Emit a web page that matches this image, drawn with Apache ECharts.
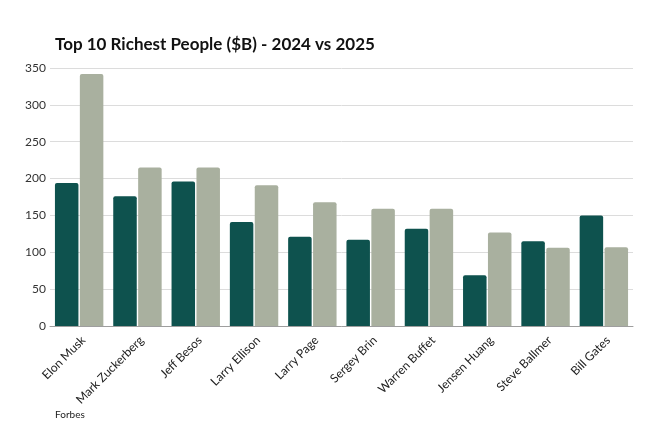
<!DOCTYPE html>
<html>
<head>
<meta charset="utf-8">
<title>Top 10 Richest People</title>
<script src="https://cdn.jsdelivr.net/npm/echarts@6/dist/echarts.min.js"></script>
<style>
    html, body { margin: 0; padding: 0; background: #fff; }
    #chart { width: 664px; height: 435px; }
</style>
</head>
<body>
<div id="chart"></div>
<script>
    // names and net worth ($B)
    var people = ['Elon Musk', 'Mark Zuckerberg', 'Jeff Besos', 'Larry Ellison', 'Larry Page',
        'Sergey Brin', 'Warren Buffet', 'Jensen Huang', 'Steve Ballmer', 'Bill Gates'];
    var worth2024 = [194, 176, 196, 141, 121, 117, 132, 69, 115, 150];
    var worth2025 = [342, 215, 215, 191, 168, 159, 159, 127, 106, 107];
    var yTicks = [0, 50, 100, 150, 200, 250, 300, 350];

    var font = 'Lato, "Noto Sans", sans-serif';

    var option = {
        animation: false,
        textStyle: { fontFamily: font },
        title: [{
            text: 'Top 10 Richest People ($B) - 2024 vs 2025',
            left: 50,
            top: 31,
            textStyle: { fontFamily: font, fontSize: 17, fontWeight: 'bold', color: '#111' }
        }, {
            text: 'Forbes',
            left: 50,
            top: 405,
            textStyle: { fontFamily: font, fontSize: 10, fontWeight: 'normal', color: '#222' }
        }],
        grid: {
            left: 50,
            right: 31,
            top: 68,
            height: 258,
            containLabel: false
        },
        xAxis: {
            type: 'category',
            data: people,
            axisTick: { show: false },
            axisLine: { show: true, lineStyle: { color: '#9e9e9e', width: 1 } },
            axisLabel: {
                rotate: 45,
                interval: 0,
                margin: 8,
                fontSize: 12,
                verticalAlign: 'top',
                color: '#222',
                fontFamily: font
            }
        },
        yAxis: {
            type: 'value',
            min: yTicks[0],
            max: yTicks[yTicks.length - 1],
            interval: 50,
            axisLine: { show: false },
            axisTick: { show: false },
            axisLabel: { fontSize: 12, color: '#333', margin: 4, fontFamily: font },
            splitLine: { lineStyle: { color: '#dcdcdc', width: 1 } }
        },
        series: [{
            name: '2024',
            type: 'bar',
            data: worth2024,
            barWidth: 23.5,
            barGap: '6%',
            itemStyle: { color: '#0e524e', borderRadius: [2, 2, 0, 0] }
        }, {
            name: '2025',
            type: 'bar',
            data: worth2025,
            barWidth: 23.5,
            itemStyle: { color: '#a9b09f', borderRadius: [2, 2, 0, 0] }
        }]
    };

    var myChart = echarts.init(document.getElementById('chart'));
    myChart.setOption(option);
</script>
</body>
</html>
